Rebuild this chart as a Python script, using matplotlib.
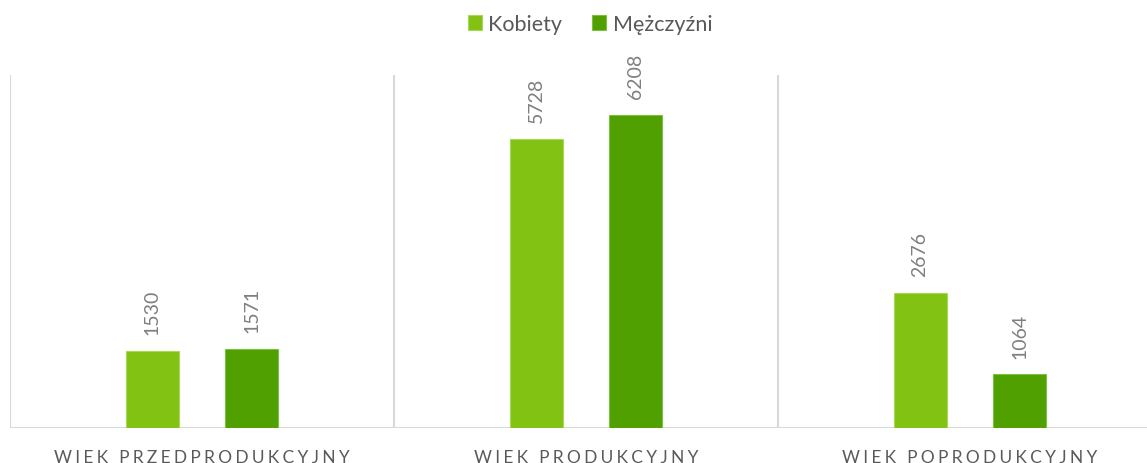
import matplotlib
matplotlib.use("Agg")
import matplotlib.pyplot as plt
import numpy as np

categories = ["WIEK PRZEDPRODUKCYJNY", "WIEK PRODUKCYJNY", "WIEK POPRODUKCYJNY"]
series_names = ["Kobiety", "Mężczyźni"]
kobiety = [1530, 5728, 2676]
mezczyzni = [1571, 6208, 1064]

colors = ["#82c213", "#4fa000"]
edge_colors = ["#a6d95a", "#7cc040"]
text_gray = "#7f7f7f"
label_gray = "#595959"
grid_gray = "#d9d9d9"

plt.rcParams['font.family'] = ['Lato', 'DejaVu Sans']

W, H = 1147, 464
fig = plt.figure(figsize=(W / 100, H / 100), dpi=100)
cat_px = 384
left_px, base_px, top_px = 10, 429, 76
ax = fig.add_axes([left_px / W, 1 - base_px / H, 3 * cat_px / W, (base_px - top_px) / H])

x = np.arange(len(categories))
offset = 0.13
width = 0.138
for i, (vals, name) in enumerate(zip([kobiety, mezczyzni], series_names)):
    pos = x + (-offset if i == 0 else offset)
    bars = ax.bar(pos, vals, width=width, color=colors[i], edgecolor=edge_colors[i],
                  linewidth=0.8, label=name, zorder=3)
    for b, v in zip(bars, vals):
        ax.annotate(f"{v}", (b.get_x() + b.get_width() / 2, v), xytext=(0, 12),
                    textcoords="offset points", rotation=90, ha="center", va="bottom",
                    fontsize=14, color=text_gray)

ax.set_xlim(-0.5, 2.5)
ax.set_ylim(0, 7000)
for s in ax.spines.values():
    s.set_visible(False)
ax.axhline(0, color=grid_gray, linewidth=1.5, zorder=2)
for b in [-0.5, 0.5, 1.5, 2.5]:
    ax.axvline(b, color=grid_gray, linewidth=1.5, zorder=1)
ax.set_yticks([])
ax.set_xticks([])

gap = "\u2009\u200a"
spaced = [gap.join(list(c)).replace(gap + " " + gap, gap + gap + " ") for c in categories]
for xi, lab in zip(x, spaced):
    ax.text(xi, -0.06, lab, transform=ax.get_xaxis_transform(), ha="center", va="top",
            fontsize=12.5, color=label_gray)

leg = fig.legend(loc="center", bbox_to_anchor=(590 / W, 1 - 25 / H), ncol=2, frameon=False,
                 fontsize=15.5, handlelength=0.65, handleheight=0.65, handletextpad=0.3,
                 columnspacing=1.4, labelcolor=label_gray)

fig.savefig("out.png", dpi=100)
